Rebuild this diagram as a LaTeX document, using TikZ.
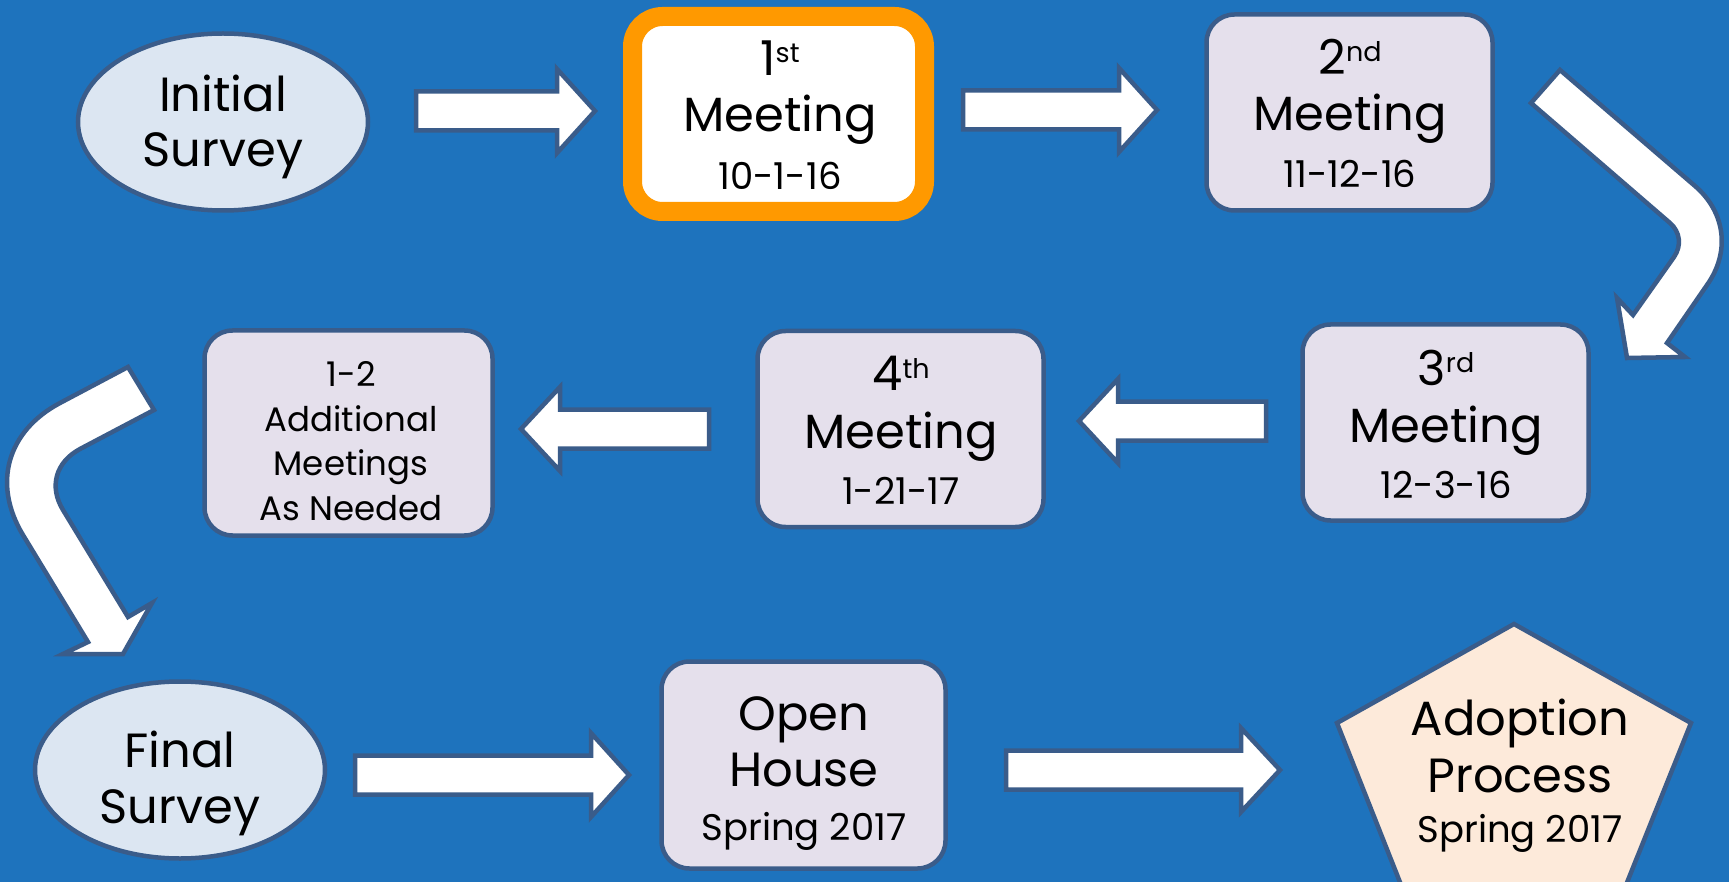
\documentclass[tikz,border=0pt]{standalone}
\usepackage{fontspec}
\setmainfont{Poppins}
\usetikzlibrary{shapes.geometric}
\definecolor{bg}{RGB}{30,115,189}
\definecolor{edge}{RGB}{58,92,138}
\definecolor{boxfill}{RGB}{229,224,236}
\definecolor{ovalfill}{RGB}{220,230,242}
\definecolor{pentfill}{RGB}{253,234,218}
\definecolor{hilite}{RGB}{255,153,0}
\newcommand\supr[1]{\raisebox{13pt}{\fontsize{27}{30}\selectfont #1}}
\newcommand\blockarr[4]{% tail, head base, tip, y
  \draw[blk] (#1,#4-19.5) -- (#2,#4-19.5) -- (#2,#4-42) -- (#3,#4) -- (#2,#4+42) -- (#2,#4+19.5) -- (#1,#4+19.5) -- cycle;}
\tikzset{
  box/.style={draw=edge, line width=4.5pt, fill=boxfill, rounded corners=28pt, minimum width=286pt, minimum height=196pt, inner sep=0pt},
  oval/.style={ellipse, draw=edge, line width=4.5pt, fill=ovalfill, minimum width=290pt, minimum height=177pt, inner sep=0pt},
  blk/.style={draw=edge, line width=4.5pt, fill=white, line join=miter},
  pent/.style={draw=edge, line width=4.5pt, fill=pentfill, line join=miter},
  lbig/.style={font=\fontsize{48}{56}\selectfont, anchor=base, inner sep=0pt, text=black},
  lmid/.style={font=\fontsize{37}{44}\selectfont, anchor=base, inner sep=0pt, text=black},
  lsml/.style={font=\fontsize{34}{40}\selectfont, anchor=base, inner sep=0pt, text=black},
}
\begin{document}
\begin{tikzpicture}[x=1pt,y=-1pt]
\useasboundingbox (0,0) rectangle (1729,882);
\fill[bg] (0,0) rectangle (1729,882);
\clip (0,0) rectangle (1729,882);

% shapes
\node[oval] (init) at (223,122) {};
\node[box, draw=hilite, line width=19pt, fill=white, minimum width=292pt, minimum height=195pt, rounded corners=30pt] (m1) at (778.5,114) {};
\node[box] (m2) at (1349.5,112.5) {};
\node[box] (m3) at (1445.5,422.5) {};
\node[box] (m4) at (900.5,429) {};
\node[box, minimum width=288pt, minimum height=205pt] (add) at (348.5,433) {};
\node[oval] (final) at (180,770) {};
\node[box, minimum width=284pt, minimum height=207pt] (open) at (803.5,765) {};
\draw[pent] (1514,624) -- (1691,723) -- (1620,900) -- (1407,900) -- (1337,723) -- cycle;

% straight block arrows
\blockarr{416}{557}{595}{111}
\blockarr{963}{1119}{1157}{110}
\blockarr{1266}{1118}{1079}{421}
\blockarr{709}{560}{521}{429}
\blockarr{355}{591}{629}{775}
\blockarr{1006}{1241}{1280}{770}

% bent arrow right
\draw[blk] (1531,103) -- (1560,70) -- (1695,186) .. controls (1725.6,212.4) and (1730.4,252) .. (1707,285)
  -- (1667,343) -- (1685,357) -- (1627,358) -- (1617,298) -- (1633,315) -- (1674,257)
  .. controls (1681.8,245.6) and (1680.2,232) .. (1670,223) -- cycle;
% bent arrow left
\draw[blk] (128,367) -- (60,403) .. controls (6.9,431.2) and (-7.9,484) .. (23,535)
  -- (88,642) -- (63,654) -- (123,654) -- (152,603) -- (128,617) -- (63,510)
  .. controls (48.8,486.6) and (55.6,462.2) .. (80,449) -- (154,410) -- cycle;

% texts
\node[lbig] (t0a) at (223,112) {Initial};
\node[lbig] (t0b) at (223,167) {Survey};

\node[lbig] (t1a) at (780,76) {1\supr{st}};
\node[lbig] (t1b) at (780,132) {Meeting};
\node[lmid] (t1c) at (780,190) {10-1-16};

\node[lbig] (t2a) at (1350,75) {2\supr{nd}};
\node[lbig] (t2b) at (1350,131) {Meeting};
\node[lmid] (t2c) at (1350,188) {11-12-16};

\node[lbig] (t3a) at (1446,385) {3\supr{rd}};
\node[lbig] (t3b) at (1446,442) {Meeting};
\node[lmid] (t3c) at (1446,498) {12-3-16};

\node[lbig] (t4a) at (901,391) {4\supr{th}};
\node[lbig] (t4b) at (901,448) {Meeting};
\node[lmid] (t4c) at (901,504) {1-21-17};

\node[lsml] (t5a) at (351,387) {1-2};
\node[lsml] (t5b) at (351,431) {Additional};
\node[lsml] (t5c) at (351,475) {Meetings};
\node[lsml] (t5d) at (351,520) {As Needed};

\node[lbig] (t6a) at (180,767) {Final};
\node[lbig] (t6b) at (180,823) {Survey};

\node[lbig] (t7a) at (804,730) {Open};
\node[lbig] (t7b) at (804,786) {House};
\node[lmid] (t7c) at (804,840) {Spring 2017};

\node[lbig] (t8a) at (1520,735) {Adoption};
\node[lbig] (t8b) at (1520,792) {Process};
\node[lmid] (t8c) at (1520,842) {Spring 2017};
\end{tikzpicture}
\end{document}
